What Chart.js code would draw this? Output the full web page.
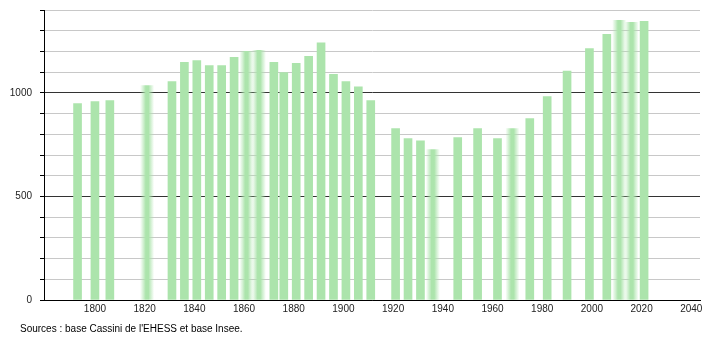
<!DOCTYPE html>
<html>
<head>
<meta charset="utf-8">
<script src="https://cdn.jsdelivr.net/npm/chart.js@4"></script>
<style>
  html, body { margin: 0; padding: 0; background: #fff; }
  #wrap { position: relative; width: 710px; height: 340px; }
  #src { position: absolute; left: 20px; top: 323px; font: 10px "Liberation Sans", Arial, sans-serif; color: #000; white-space: nowrap; }
</style>
</head>
<body>
<div id="wrap">
  <canvas id="c" width="710" height="340"></canvas>
  <div id="src">Sources : base Cassini de l'EHESS et base Insee.</div>
</div>
<script>
const years = [1793, 1800, 1806, 1821, 1831, 1836, 1841, 1846, 1851, 1856, 1861, 1866, 1872, 1876, 1881, 1886, 1891, 1896, 1901, 1906, 1911, 1921, 1926, 1931, 1936, 1946, 1954, 1962, 1968, 1975, 1982, 1990, 1999, 2006, 2011, 2016, 2021];
const population = [948, 958, 963, 1035, 1055, 1147, 1156, 1132, 1132, 1171, 1200, 1205, 1147, 1098, 1142, 1176, 1242, 1089, 1055, 1029, 963, 827, 779, 769, 726, 784, 827, 779, 827, 876, 982, 1105, 1214, 1282, 1350, 1340, 1345];
const xTickLabels = [1800, 1820, 1840, 1860, 1880, 1900, 1920, 1940, 1960, 1980, 2000, 2020, 2040];
const yTickLabels = [0, 500, 1000];
// years whose bars look soft-edged in the reference
const softYears = [1821, 1861, 1866, 1936, 1968, 2011, 2016];

const FONT = { family: '"Liberation Sans", Arial, sans-serif', size: 10 };
const GREEN = 'rgb(172,228,172)';

const pts = years.map((y, i) => ({ x: y, y: population[i] }));

function softFill(ctx) {
  const chart = ctx.chart;
  if (!chart.chartArea || !ctx.raw || !chart.scales.x) return GREEN;
  const cx = chart.scales.x.getPixelForValue(ctx.raw.x);
  const g = chart.ctx.createLinearGradient(cx - 7, 0, cx + 7, 0);
  g.addColorStop(0, 'rgba(172,228,172,0)');
  g.addColorStop(0.25, 'rgba(172,228,172,0.6)');
  g.addColorStop(0.4, 'rgba(172,228,172,1)');
  g.addColorStop(0.6, 'rgba(172,228,172,1)');
  g.addColorStop(0.75, 'rgba(172,228,172,0.6)');
  g.addColorStop(1, 'rgba(172,228,172,0)');
  return g;
}

new Chart(document.getElementById('c'), {
  type: 'bar',
  data: {
    datasets: [{
      data: pts.filter(p => !softYears.includes(p.x)),
      backgroundColor: GREEN,
      borderWidth: 0,
      barThickness: 8,
      grouped: false
    }, {
      data: pts.filter(p => softYears.includes(p.x)),
      backgroundColor: softFill,
      borderWidth: 0,
      barThickness: 14,
      grouped: false
    }]
  },
  options: {
    responsive: false,
    animation: false,
    events: [],
    layout: { padding: { top: 10, right: 10, left: 0, bottom: 0 } },
    plugins: { legend: { display: false }, tooltip: { enabled: false } },
    scales: {
      x: {
        type: 'linear',
        offset: false,
        min: 1779.5,
        max: 2043.5,
        afterBuildTicks: s => { s.ticks = xTickLabels.map(v => ({ value: v })); },
        afterFit: s => { s.height = 40; s.paddingLeft = 0; s.paddingRight = 0; },
        grid: { display: false, drawTicks: false, offset: false },
        border: { display: true, color: '#000', width: 1 },
        ticks: { font: FONT, color: '#222', padding: 3, maxRotation: 0, autoSkip: false, callback: v => String(v) }
      },
      y: {
        min: 0,
        max: 1400,
        afterBuildTicks: s => { s.ticks = []; for (let v = 0; v <= 1400; v += 100) s.ticks.push({ value: v }); },
        afterFit: s => { s.width = 44; s.paddingTop = 0; s.paddingBottom = 0; },
        border: { display: true, color: '#000', width: 1 },
        grid: {
          color: c => (c.tick && c.tick.value % 500 === 0) ? '#333' : '#c8c8c8',
          lineWidth: 1,
          tickColor: '#000',
          tickLength: 4,
          drawTicks: true
        },
        ticks: {
          font: FONT, color: '#222', padding: 8, autoSkip: false,
          callback: v => yTickLabels.includes(v) ? String(v) : ''
        }
      }
    }
  }
});
</script>
</body>
</html>
